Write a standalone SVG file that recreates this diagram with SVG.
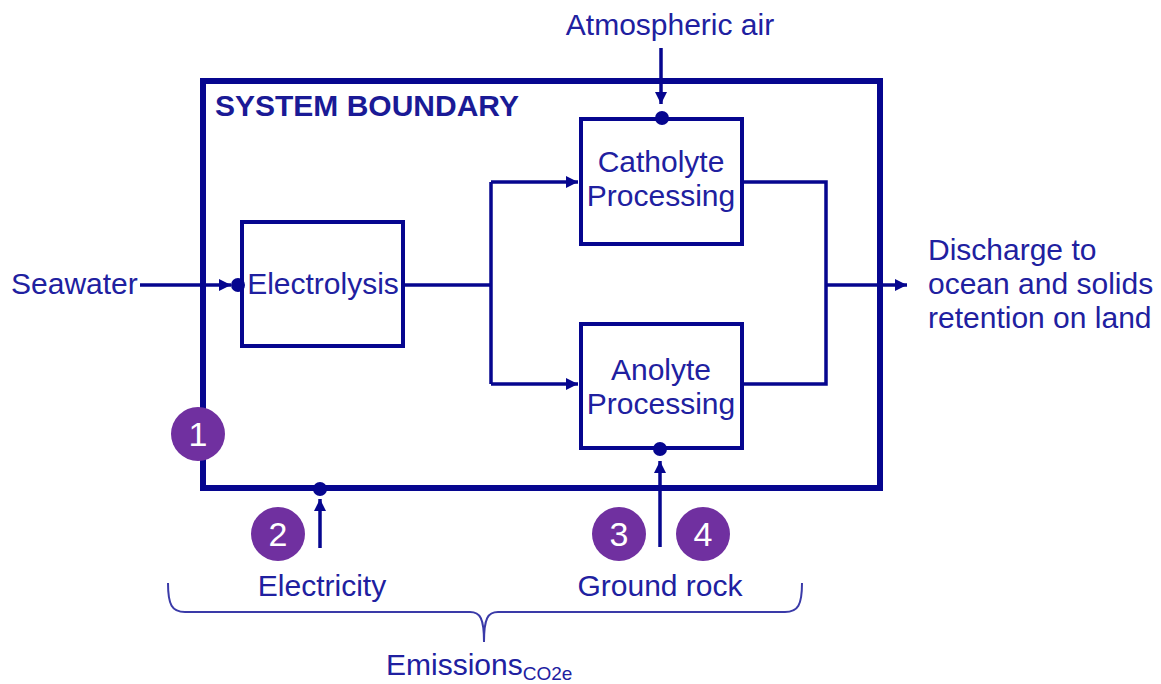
<svg xmlns="http://www.w3.org/2000/svg" width="1161" height="684" viewBox="0 0 1161 684">
<style>
.t{font-family:"Liberation Sans",Arial,sans-serif;font-size:30px;fill:#2020a0}
.c{text-anchor:middle}
.box{fill:#fff;stroke:#06068f;stroke-width:4}
.ln{fill:none;stroke:#06068f;stroke-width:3.5}
.dot{fill:#06068f}
.num{fill:#7030a0}
.nt{font-family:"Liberation Sans",Arial,sans-serif;font-size:34px;fill:#fff;text-anchor:middle}
</style>
<defs>
<marker id="ah" markerUnits="userSpaceOnUse" markerWidth="12" markerHeight="12" viewBox="0 0 10 10" refX="10" refY="5" orient="auto">
<path d="M0,0 L10,5 L0,10 z" fill="#06068f"/>
</marker>
</defs>
<rect width="1161" height="684" fill="#fff"/>
<g id="boundary">
<rect x="203" y="81" width="677" height="407" fill="none" stroke="#06068f" stroke-width="6"/>
<text x="215" y="116" style="font-family:'Liberation Sans',Arial,sans-serif;font-size:30px;font-weight:bold;fill:#1a1a96">SYSTEM BOUNDARY</text>
</g>
<g id="connectors">
<path class="ln" d="M140,285 H231" marker-end="url(#ah)"/>
<path class="ln" d="M404,285 H491"/>
<path class="ln" d="M491,182 V384"/>
<path class="ln" d="M491,182 H578" marker-end="url(#ah)"/>
<path class="ln" d="M491,384 H578" marker-end="url(#ah)"/>
<path class="ln" d="M743,182 H826 V384 H743"/>
<path class="ln" d="M826,285 H907" stroke-width="5" marker-end="url(#ah)"/>
<path class="ln" d="M661,48 V104" marker-end="url(#ah)"/>
<path class="ln" d="M660,547 V461" marker-end="url(#ah)"/>
<path class="ln" d="M320,548 V499" marker-end="url(#ah)"/>
<circle class="dot" cx="320" cy="489" r="7"/>
<path d="M168,583 C168,605 172,612 185,612 L470,612 C480,612 484,618 484,642 C484,618 488,612 498,612 L785,612 C798,612 802,605 802,583" fill="none" stroke="#3a3aa8" stroke-width="2"/>
</g>
<g id="electrolysis">
<rect class="box" x="242" y="222" width="161" height="124"/>
<circle class="dot" cx="238" cy="285" r="7"/>
<text class="t c" x="323" y="294">Electrolysis</text>
</g>
<g id="catholyte">
<rect class="box" x="581" y="119" width="161" height="125"/>
<circle class="dot" cx="662" cy="118" r="7"/>
<text class="t c" x="661" y="172">Catholyte</text>
<text class="t c" x="661" y="206">Processing</text>
</g>
<g id="anolyte">
<rect class="box" x="581" y="324" width="161" height="124"/>
<circle class="dot" cx="660" cy="449" r="7"/>
<text class="t c" x="661" y="380">Anolyte</text>
<text class="t c" x="661" y="414">Processing</text>
</g>
<g id="seawater"><text class="t" x="11" y="294">Seawater</text></g>
<g id="atmospheric-air"><text class="t c" x="670" y="35">Atmospheric air</text></g>
<g id="discharge">
<text class="t" x="928" y="260">Discharge to</text>
<text class="t" x="928" y="294">ocean and solids</text>
<text class="t" x="928" y="328">retention on land</text>
</g>
<g id="electricity"><text class="t c" x="322" y="596">Electricity</text></g>
<g id="ground-rock"><text class="t c" x="660" y="596">Ground rock</text></g>
<g id="emissions"><text class="t" x="386" y="675">Emissions<tspan font-size="19" dy="5">CO2e</tspan></text></g>
<g id="n1"><circle class="num" cx="198" cy="434" r="27"/><text class="nt" x="198" y="446">1</text></g>
<g id="n2"><circle class="num" cx="278" cy="534" r="27"/><text class="nt" x="278" y="546">2</text></g>
<g id="n3"><circle class="num" cx="619" cy="534" r="27"/><text class="nt" x="619" y="546">3</text></g>
<g id="n4"><circle class="num" cx="703" cy="534" r="27"/><text class="nt" x="703" y="546">4</text></g>
</svg>
